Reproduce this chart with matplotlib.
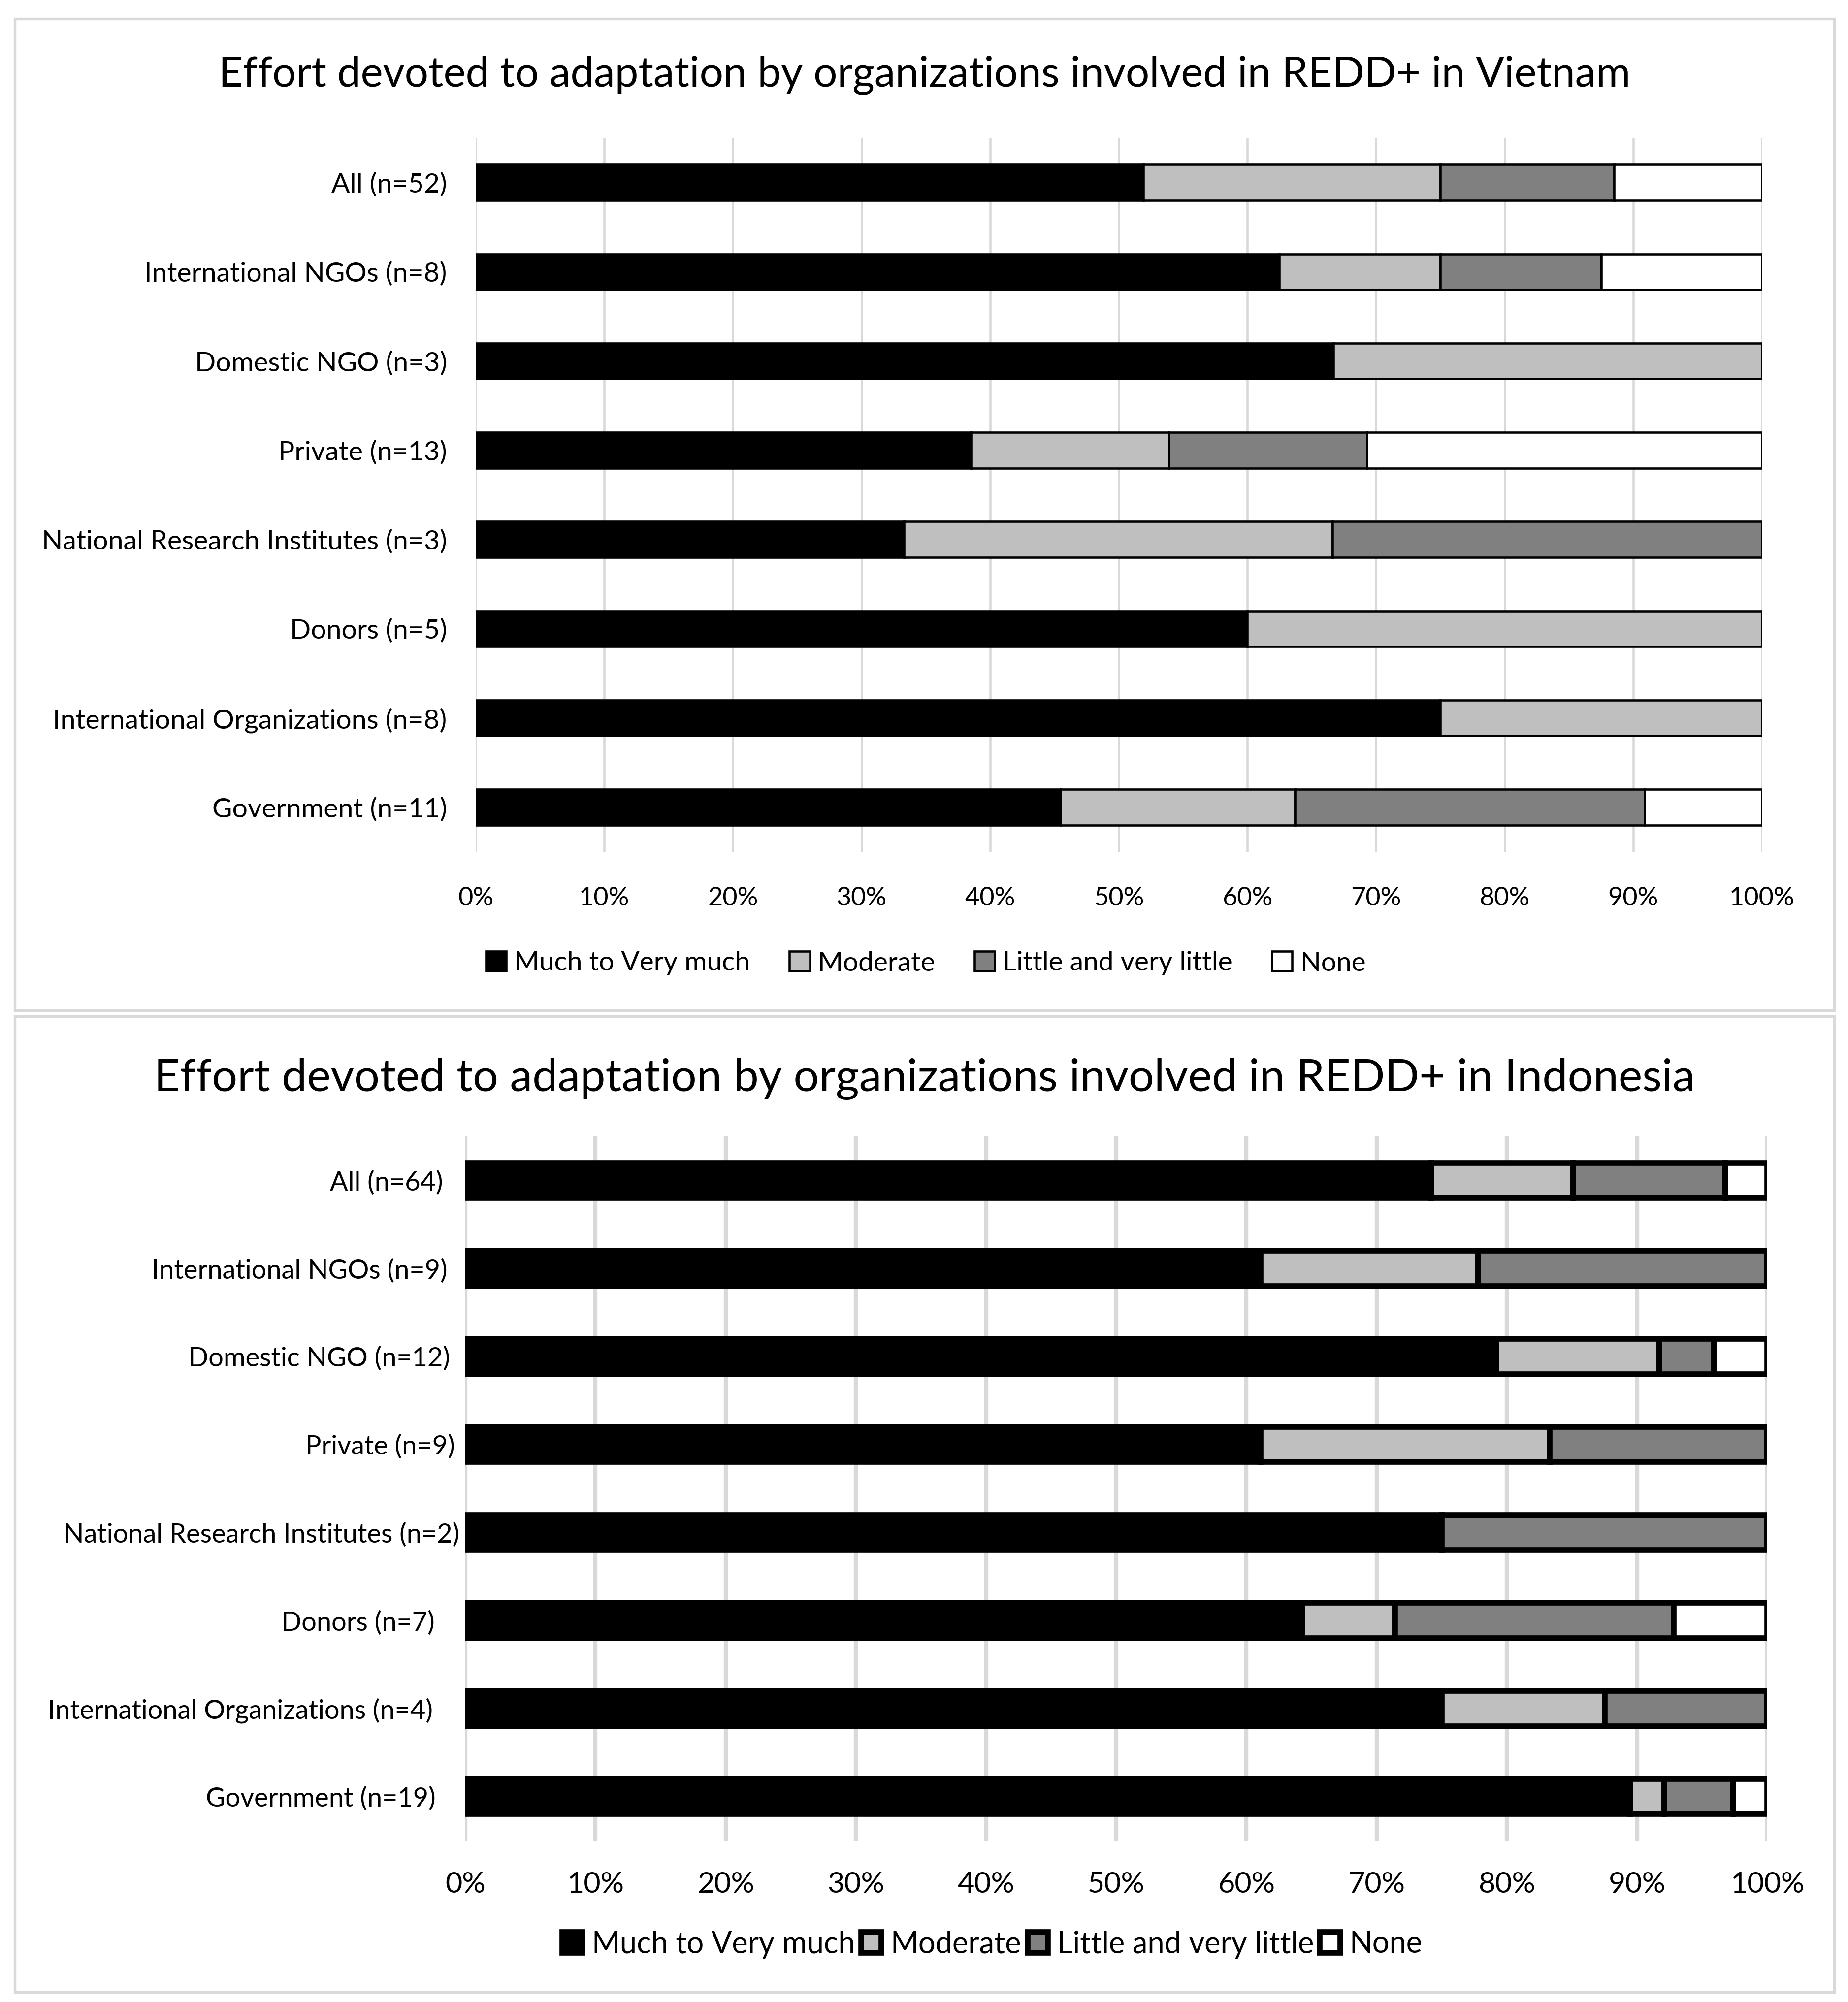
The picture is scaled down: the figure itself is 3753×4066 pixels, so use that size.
import matplotlib

matplotlib.use("Agg")
import matplotlib.pyplot as plt
import numpy as np
from matplotlib.patches import Patch, Rectangle
from matplotlib.transforms import ScaledTranslation

plt.rcParams["font.family"] = ["Lato", "DejaVu Sans"]

W, H, DPI = 3753, 4066, 300

LEVELS = ["Much to Very much", "Moderate", "Little and very little", "None"]
COLORS = ["#000000", "#BFBFBF", "#808080", "#FFFFFF"]

# Vietnam (shares, %)
VN_LABELS = [
    "All (n=52)",
    "International NGOs (n=8)",
    "Domestic NGO (n=3)",
    "Private (n=13)",
    "National Research Institutes (n=3)",
    "Donors (n=5)",
    "International Organizations (n=8)",
    "Government (n=11)",
]
VN_MUCH = [51.9, 62.5, 66.7, 38.5, 33.3, 60.0, 75.0, 45.5]
VN_MODERATE = [23.1, 12.5, 33.3, 15.4, 33.3, 40.0, 25.0, 18.2]
VN_LITTLE = [13.5, 12.5, 0.0, 15.4, 33.4, 0.0, 0.0, 27.2]
VN_NONE = [11.5, 12.5, 0.0, 30.7, 0.0, 0.0, 0.0, 9.1]

# Indonesia (shares, %)
ID_LABELS = [
    "All (n=64)",
    "International NGOs (n=9)",
    "Domestic NGO (n=12)",
    "Private (n=9)",
    "National Research Institutes (n=2)",
    "Donors (n=7)",
    "International Organizations (n=4)",
    "Government (n=19)",
]
ID_MUCH = [74.2, 61.1, 79.2, 61.1, 75.0, 64.3, 75.0, 89.5]
ID_MODERATE = [10.9, 16.7, 12.5, 22.2, 0.0, 7.1, 12.5, 2.6]
ID_LITTLE = [11.7, 22.2, 4.2, 16.7, 25.0, 21.4, 12.5, 5.3]
ID_NONE = [3.2, 0.0, 4.1, 0.0, 0.0, 7.2, 0.0, 2.6]

# small right-side nudges (px) of the Indonesia category labels
ID_LABEL_NUDGE = [46, 36, 31, 21, 12, 62, 66, 60]


def px_box(x0, y0, x1, y1):
    return (x0 / W, 1 - y1 / H, (x1 - x0) / W, (y1 - y0) / H)


def draw_panel(fig, rect, labels, series, title, title_xy, title_size, label_size,
               tick_size, edge_lw, grid_lw, label_pad, tick_pad, nudge=None):
    ax = fig.add_axes(rect)
    y = np.arange(len(labels))
    left = np.zeros(len(labels))
    for values, color, name in zip(series, COLORS, LEVELS):
        vals = np.array(values)
        ax.barh(y, vals, left=left, height=0.4, color=color, edgecolor="black",
                linewidth=edge_lw, label=name, zorder=3)
        left += vals
    ax.set_xlim(0, 100)
    ax.set_ylim(len(labels) - 0.5, -0.5)
    ax.set_xticks(np.arange(0, 101, 10))
    ax.set_xticklabels([f"{v}%" for v in range(0, 101, 10)], fontsize=tick_size)
    ax.set_yticks(y)
    ax.set_yticklabels(labels, fontsize=label_size)
    ax.tick_params(axis="both", length=0)
    ax.tick_params(axis="x", pad=tick_pad)
    ax.tick_params(axis="y", pad=label_pad)
    ax.grid(True, axis="x", color="#D9D9D9", linewidth=grid_lw, zorder=0)
    ax.set_axisbelow(True)
    for s in ax.spines.values():
        s.set_visible(False)
    if nudge is not None:
        for lab, dx in zip(ax.get_yticklabels(), nudge):
            lab.set_transform(lab.get_transform() + ScaledTranslation(-dx / DPI, 0, fig.dpi_scale_trans))
    fig.text(title_xy[0] / W, 1 - title_xy[1] / H, title, ha="center", va="center",
             fontsize=title_size, color="black")
    return ax


def add_legend(fig, center_xy, fontsize, edge_lw, colspacing, box):
    handles = [Patch(facecolor=c, edgecolor="black", linewidth=edge_lw, label=n)
               for c, n in zip(COLORS, LEVELS)]
    fig.legend(handles=handles, loc="center", bbox_to_anchor=(center_xy[0] / W, 1 - center_xy[1] / H),
               ncol=4, frameon=False, fontsize=fontsize, handlelength=box, handleheight=box,
               handletextpad=0.3, columnspacing=colspacing, borderaxespad=0)


fig = plt.figure(figsize=(W / DPI, H / DPI), dpi=DPI)
fig.patch.set_facecolor("white")

for box in [px_box(30, 38, 3725, 2052), px_box(30, 2064, 3725, 4046)]:
    fig.add_artist(Rectangle(box[:2], box[2], box[3], transform=fig.transFigure,
                             fill=False, edgecolor="#D9D9D9", linewidth=1.3))

draw_panel(
    fig, px_box(966, 280, 3578, 1730), VN_LABELS,
    [VN_MUCH, VN_MODERATE, VN_LITTLE, VN_NONE],
    "Effort devoted to adaptation by organizations involved in REDD+ in Vietnam",
    (1878, 152), 20.5, 13.3, 12.5, 1.1, 1.1, 14, 17,
)
add_legend(fig, (1880, 1956), 13.2, 1.1, 1.45, 0.75)

draw_panel(
    fig, px_box(945, 2308, 3589, 3738), ID_LABELS,
    [ID_MUCH, ID_MODERATE, ID_LITTLE, ID_NONE],
    "Effort devoted to adaptation by organizations involved in REDD+ in Indonesia",
    (1878, 2192), 22, 13.0, 14.2, 2.8, 2.0, 0, 15, nudge=ID_LABEL_NUDGE,
)
add_legend(fig, (2015, 3949), 14.7, 2.8, 0.2, 0.68)

fig.savefig("out.png", dpi=DPI)
